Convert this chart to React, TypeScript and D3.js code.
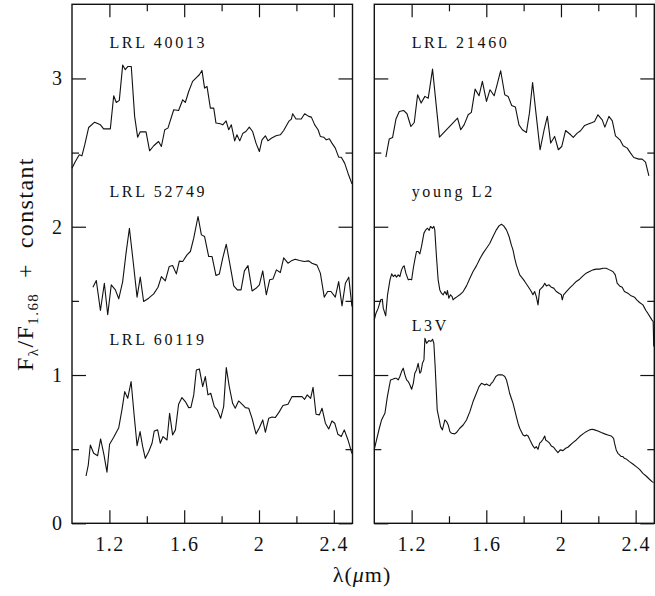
import React, { useEffect, useRef } from "react";
import * as d3 from "d3";

type Pt = [number, number];

// spectra: [wavelength (um), F/F1.68 + offset]
const lrl40013: Pt[] = [
  [1.0, 2.395], [1.018, 2.44], [1.039, 2.485], [1.053, 2.478], [1.068, 2.552], [1.089, 2.669], [1.121, 2.705],
  [1.152, 2.687], [1.169, 2.66], [1.205, 2.66], [1.223, 2.883], [1.237, 2.838], [1.253, 2.852], [1.271, 3.09],
  [1.285, 3.059], [1.299, 3.081], [1.317, 3.081], [1.335, 2.744], [1.351, 2.604], [1.365, 2.64], [1.396, 2.64],
  [1.415, 2.512], [1.437, 2.546], [1.463, 2.575], [1.478, 2.541], [1.496, 2.654], [1.513, 2.665], [1.544, 2.789],
  [1.57, 2.784], [1.592, 2.856], [1.606, 2.838], [1.624, 2.912], [1.645, 2.98], [1.668, 3.009], [1.681, 3.025],
  [1.695, 3.054], [1.709, 2.935], [1.722, 2.946], [1.74, 2.8], [1.758, 2.8], [1.77, 2.699], [1.793, 2.694],
  [1.806, 2.687], [1.824, 2.714], [1.838, 2.654], [1.852, 2.687], [1.87, 2.579], [1.882, 2.62], [1.897, 2.579],
  [1.914, 2.631], [1.93, 2.642], [1.948, 2.672], [1.966, 2.642], [1.984, 2.564], [2.002, 2.507], [2.016, 2.586],
  [2.034, 2.613], [2.048, 2.579], [2.066, 2.597], [2.091, 2.613], [2.114, 2.62], [2.132, 2.649], [2.159, 2.71],
  [2.173, 2.726], [2.18, 2.762], [2.198, 2.726], [2.226, 2.726], [2.244, 2.762], [2.266, 2.744], [2.28, 2.739],
  [2.298, 2.687], [2.316, 2.654], [2.328, 2.609], [2.346, 2.604], [2.36, 2.586], [2.376, 2.593], [2.39, 2.564],
  [2.408, 2.53], [2.426, 2.469], [2.44, 2.469], [2.458, 2.429], [2.476, 2.361], [2.497, 2.289],
];

const lrl52749: Pt[] = [
  [1.112, 1.592], [1.13, 1.637], [1.152, 1.435], [1.173, 1.619], [1.191, 1.406], [1.21, 1.608], [1.232, 1.574],
  [1.25, 1.514], [1.271, 1.63], [1.289, 1.822], [1.307, 1.99], [1.326, 1.777], [1.348, 1.525], [1.365, 1.66],
  [1.383, 1.496], [1.41, 1.518], [1.437, 1.547], [1.46, 1.592], [1.478, 1.664], [1.499, 1.635], [1.52, 1.732],
  [1.538, 1.738], [1.558, 1.682], [1.574, 1.768], [1.592, 1.765], [1.615, 1.81], [1.633, 1.833], [1.651, 1.923],
  [1.674, 2.069], [1.692, 1.945], [1.709, 1.934], [1.731, 1.799], [1.749, 1.799], [1.77, 1.671], [1.788, 1.682],
  [1.806, 1.788], [1.825, 1.882], [1.845, 1.743], [1.865, 1.601], [1.884, 1.574], [1.904, 1.574], [1.922, 1.702],
  [1.941, 1.738], [1.963, 1.567], [1.984, 1.585], [2.002, 1.608], [2.02, 1.702], [2.039, 1.541], [2.057, 1.642],
  [2.075, 1.648], [2.093, 1.709], [2.114, 1.691], [2.132, 1.79], [2.155, 1.754], [2.173, 1.77], [2.194, 1.781],
  [2.217, 1.772], [2.242, 1.765], [2.266, 1.77], [2.283, 1.754], [2.31, 1.741], [2.328, 1.687], [2.349, 1.525],
  [2.367, 1.563], [2.385, 1.563], [2.408, 1.525], [2.426, 1.63], [2.444, 1.466], [2.462, 1.619], [2.48, 1.66],
  [2.497, 1.462],
];

const lrl60119: Pt[] = [
  [1.075, 0.319], [1.087, 0.393], [1.098, 0.528], [1.116, 0.472], [1.137, 0.456], [1.153, 0.569], [1.171, 0.461],
  [1.187, 0.345], [1.201, 0.533], [1.223, 0.58], [1.25, 0.645], [1.267, 0.765], [1.282, 0.888], [1.298, 0.843],
  [1.316, 0.956], [1.333, 0.72], [1.348, 0.524], [1.364, 0.618], [1.378, 0.517], [1.392, 0.438], [1.41, 0.483],
  [1.428, 0.54], [1.44, 0.623], [1.458, 0.63], [1.472, 0.54], [1.487, 0.585], [1.508, 0.562], [1.522, 0.742],
  [1.538, 0.596], [1.553, 0.63], [1.57, 0.803], [1.588, 0.848], [1.606, 0.821], [1.624, 0.78], [1.636, 0.782],
  [1.651, 0.866], [1.665, 1.034], [1.681, 1.041], [1.699, 0.922], [1.713, 0.989], [1.727, 0.866], [1.742, 0.877],
  [1.761, 0.787], [1.777, 0.765], [1.795, 0.708], [1.811, 0.787], [1.825, 1.05], [1.841, 0.922], [1.859, 0.809],
  [1.873, 0.776], [1.891, 0.825], [1.909, 0.803], [1.927, 0.78], [1.945, 0.776], [1.963, 0.708], [1.984, 0.603],
  [2.002, 0.645], [2.02, 0.697], [2.034, 0.614], [2.052, 0.708], [2.07, 0.717], [2.087, 0.713], [2.109, 0.753],
  [2.128, 0.794], [2.155, 0.803], [2.176, 0.854], [2.203, 0.854], [2.23, 0.854], [2.244, 0.836], [2.258, 0.866],
  [2.276, 0.843], [2.289, 0.917], [2.305, 0.735], [2.323, 0.731], [2.337, 0.776], [2.355, 0.675], [2.373, 0.636],
  [2.39, 0.69], [2.405, 0.675], [2.422, 0.6], [2.44, 0.585], [2.456, 0.63], [2.476, 0.562], [2.497, 0.47],
];

const lrl21460: Pt[] = [
  [1.062, 2.469], [1.08, 2.591], [1.098, 2.602], [1.116, 2.726], [1.134, 2.777], [1.157, 2.784], [1.175, 2.762],
  [1.196, 2.676], [1.214, 2.703], [1.232, 2.89], [1.251, 2.834], [1.271, 2.879], [1.289, 2.867], [1.312, 3.063],
  [1.349, 2.604], [1.446, 2.732], [1.463, 2.654], [1.481, 2.687], [1.503, 2.755], [1.52, 2.771], [1.54, 2.928],
  [1.561, 2.883], [1.579, 2.98], [1.601, 2.845], [1.62, 2.924], [1.642, 2.883], [1.66, 2.969], [1.677, 3.052],
  [1.699, 2.89], [1.717, 2.879], [1.736, 2.818], [1.756, 2.807], [1.775, 2.687], [1.793, 2.654], [1.815, 2.636],
  [1.831, 2.766], [1.848, 2.973], [1.868, 2.744], [1.888, 2.519], [1.909, 2.649], [1.927, 2.744], [1.945, 2.564],
  [1.966, 2.609], [1.986, 2.519], [2.004, 2.541], [2.025, 2.649], [2.052, 2.62], [2.066, 2.602], [2.087, 2.631],
  [2.105, 2.647], [2.127, 2.683], [2.15, 2.694], [2.168, 2.703], [2.18, 2.71], [2.198, 2.755], [2.221, 2.721],
  [2.235, 2.672], [2.257, 2.744], [2.275, 2.714], [2.292, 2.613], [2.316, 2.586], [2.333, 2.546], [2.355, 2.53],
  [2.373, 2.496], [2.39, 2.467], [2.417, 2.456], [2.435, 2.456], [2.453, 2.436], [2.471, 2.343],
];

const youngL2: Pt[] = [
  [1.0, 1.372], [1.009, 1.417], [1.021, 1.451], [1.034, 1.507], [1.043, 1.511], [1.048, 1.451], [1.061, 1.399],
  [1.071, 1.541], [1.084, 1.642], [1.093, 1.682], [1.102, 1.664], [1.111, 1.675], [1.119, 1.66], [1.128, 1.675],
  [1.137, 1.664], [1.146, 1.709], [1.155, 1.732], [1.16, 1.736], [1.169, 1.687], [1.182, 1.642], [1.191, 1.646],
  [1.2, 1.642], [1.209, 1.72], [1.217, 1.777], [1.226, 1.833], [1.235, 1.833], [1.244, 1.817], [1.253, 1.867],
  [1.266, 1.957], [1.276, 1.979], [1.285, 1.99], [1.294, 1.975], [1.301, 2.002], [1.312, 1.99], [1.319, 2.002],
  [1.324, 1.979], [1.333, 1.799], [1.342, 1.642], [1.351, 1.574], [1.36, 1.552], [1.369, 1.541], [1.378, 1.563],
  [1.387, 1.541], [1.392, 1.57], [1.399, 1.518], [1.408, 1.541], [1.417, 1.529], [1.422, 1.507], [1.431, 1.518],
  [1.44, 1.525], [1.458, 1.541], [1.476, 1.563], [1.494, 1.601], [1.512, 1.653], [1.529, 1.698], [1.547, 1.736],
  [1.565, 1.783], [1.583, 1.822], [1.601, 1.855], [1.619, 1.889], [1.636, 1.934], [1.654, 1.979], [1.668, 2.006],
  [1.681, 2.017], [1.693, 2.006], [1.708, 1.979], [1.722, 1.934], [1.734, 1.878], [1.743, 1.844], [1.752, 1.788],
  [1.761, 1.743], [1.77, 1.709], [1.779, 1.675], [1.793, 1.653], [1.806, 1.631], [1.824, 1.597], [1.841, 1.563],
  [1.85, 1.541], [1.859, 1.563], [1.868, 1.529], [1.877, 1.473], [1.886, 1.574], [1.895, 1.586], [1.904, 1.597],
  [1.913, 1.619], [1.922, 1.601], [1.936, 1.608], [1.948, 1.592], [1.961, 1.586], [1.975, 1.563], [1.989, 1.552],
  [2.002, 1.541], [2.007, 1.507], [2.014, 1.541], [2.029, 1.563], [2.046, 1.586], [2.064, 1.608], [2.082, 1.631],
  [2.1, 1.646], [2.118, 1.669], [2.135, 1.687], [2.153, 1.698], [2.171, 1.709], [2.189, 1.714], [2.207, 1.714],
  [2.225, 1.72], [2.242, 1.72], [2.26, 1.709], [2.278, 1.698], [2.291, 1.675], [2.301, 1.619], [2.314, 1.601],
  [2.328, 1.592], [2.34, 1.563], [2.358, 1.552], [2.376, 1.534], [2.394, 1.525], [2.406, 1.507], [2.421, 1.489],
  [2.439, 1.473], [2.456, 1.433], [2.465, 1.417], [2.474, 1.399], [2.487, 1.372], [2.494, 1.361], [2.497, 1.192],
];

const l3v: Pt[] = [
  [1.0, 0.499], [1.012, 0.562], [1.027, 0.641], [1.039, 0.697], [1.048, 0.72], [1.057, 0.742], [1.07, 0.854],
  [1.08, 0.922], [1.087, 0.967], [1.098, 0.971], [1.111, 0.978], [1.119, 0.978], [1.128, 0.967], [1.137, 0.99],
  [1.146, 1.023], [1.155, 1.046], [1.164, 1.001], [1.173, 0.967], [1.182, 0.956], [1.191, 0.933], [1.2, 0.904],
  [1.209, 0.944], [1.217, 1.012], [1.226, 1.034], [1.235, 1.079], [1.244, 1.012], [1.25, 1.023], [1.258, 1.079],
  [1.266, 1.102], [1.271, 1.248], [1.28, 1.214], [1.292, 1.232], [1.303, 1.226], [1.312, 1.241], [1.319, 1.214],
  [1.326, 1.057], [1.337, 0.765], [1.348, 0.697], [1.355, 0.652], [1.365, 0.63], [1.378, 0.697], [1.387, 0.686],
  [1.396, 0.663], [1.405, 0.618], [1.414, 0.607], [1.431, 0.603], [1.44, 0.612], [1.458, 0.641], [1.476, 0.663],
  [1.494, 0.697], [1.512, 0.753], [1.529, 0.821], [1.547, 0.877], [1.561, 0.922], [1.574, 0.944], [1.583, 0.94],
  [1.592, 0.933], [1.601, 0.94], [1.61, 0.933], [1.619, 0.927], [1.627, 0.944], [1.636, 0.956], [1.651, 0.99],
  [1.663, 1.001], [1.672, 1.001], [1.686, 1.001], [1.699, 0.99], [1.708, 0.967], [1.717, 0.922], [1.725, 0.877],
  [1.734, 0.843], [1.743, 0.81], [1.752, 0.765], [1.761, 0.72], [1.77, 0.675], [1.779, 0.641], [1.788, 0.618],
  [1.797, 0.596], [1.806, 0.589], [1.815, 0.596], [1.824, 0.589], [1.832, 0.567], [1.841, 0.544], [1.85, 0.522],
  [1.859, 0.506], [1.868, 0.517], [1.877, 0.499], [1.886, 0.54], [1.895, 0.551], [1.904, 0.567], [1.913, 0.589],
  [1.918, 0.562], [1.93, 0.551], [1.939, 0.54], [1.948, 0.522], [1.961, 0.513], [1.971, 0.495], [1.984, 0.477],
  [1.996, 0.495], [2.011, 0.49], [2.025, 0.506], [2.037, 0.513], [2.05, 0.528], [2.064, 0.544], [2.082, 0.562],
  [2.1, 0.585], [2.118, 0.603], [2.135, 0.618], [2.153, 0.63], [2.168, 0.634], [2.18, 0.63], [2.198, 0.623],
  [2.216, 0.612], [2.234, 0.603], [2.251, 0.596], [2.269, 0.589], [2.282, 0.573], [2.287, 0.54], [2.296, 0.495],
  [2.305, 0.472], [2.314, 0.461], [2.323, 0.45], [2.332, 0.45], [2.34, 0.438], [2.349, 0.434], [2.367, 0.416],
  [2.385, 0.4], [2.403, 0.382], [2.421, 0.364], [2.439, 0.337], [2.456, 0.319], [2.474, 0.297], [2.488, 0.281],
  [2.496, 0.274],
];

const xDomain: [number, number] = [1.0, 2.5];
const yDomain: [number, number] = [0, 3.5];
const xMajor = [1.2, 1.6, 2.0, 2.4];
const xMinor = [1.4, 1.8, 2.2];
const yMajor = [0, 1, 2, 3];
const yMinor = [0.5, 1.5, 2.5];

const leftNames = ["LRL 40013", "LRL 52749", "LRL 60119"];
const leftLabelY = [3.207, 2.202, 1.204];
const rightNames = ["LRL 21460", "young L2", "L3V"];
const rightLabelY = [3.207, 2.202, 1.3];

const FONT = "'Liberation Serif', 'Times New Roman', serif";

function clearNode(node: Element | null) {
  if (!node) return;
  while (node.firstChild) node.removeChild(node.firstChild);
}

function drawPanel(svg: any, x0: number, x1: number, series: Pt[][], names: string[], labelY: number[], showY: boolean) {
  const top = 4.3;
  const bottom = 523.3;
  const x = d3.scaleLinear().domain(xDomain).range([x0, x1]);
  const y = d3.scaleLinear().domain(yDomain).range([bottom, top]);
  const g = svg.append("g");

  const tickStyle = (sel: any) => {
    sel.select(".domain").remove();
    sel.selectAll(".tick line").attr("stroke", "#111").attr("stroke-width", 1.2);
  };

  // bottom & top ticks (inward)
  g.append("g").attr("transform", `translate(0,${bottom})`)
    .call(d3.axisBottom(x).tickValues(xMajor).tickSize(-13).tickPadding(14).tickFormat((d: any) => String(d)))
    .call(tickStyle)
    .call((a: any) => a.selectAll("text").attr("font-family", FONT).attr("font-size", 20).attr("fill", "#111").style("letter-spacing", "1.5px"));
  g.append("g").attr("transform", `translate(0,${bottom})`)
    .call(d3.axisBottom(x).tickValues(xMinor).tickSize(-7).tickFormat(() => ""))
    .call(tickStyle);
  g.append("g").attr("transform", `translate(0,${top})`)
    .call(d3.axisTop(x).tickValues(xMajor).tickSize(-13).tickFormat(() => ""))
    .call(tickStyle);
  g.append("g").attr("transform", `translate(0,${top})`)
    .call(d3.axisTop(x).tickValues(xMinor).tickSize(-7).tickFormat(() => ""))
    .call(tickStyle);

  // left & right ticks
  const left = d3.axisLeft(y).tickValues(yMajor).tickSize(-14).tickPadding(10)
    .tickFormat((d: any) => (showY ? String(d) : ""));
  g.append("g").attr("transform", `translate(${x0},0)`)
    .call(left)
    .call(tickStyle)
    .call((a: any) => a.selectAll("text").attr("font-family", FONT).attr("font-size", 20).attr("fill", "#111"));
  g.append("g").attr("transform", `translate(${x0},0)`)
    .call(d3.axisLeft(y).tickValues(yMinor).tickSize(-7).tickFormat(() => ""))
    .call(tickStyle);
  g.append("g").attr("transform", `translate(${x1},0)`)
    .call(d3.axisRight(y).tickValues(yMajor).tickSize(-14).tickFormat(() => ""))
    .call(tickStyle);
  g.append("g").attr("transform", `translate(${x1},0)`)
    .call(d3.axisRight(y).tickValues(yMinor).tickSize(-7).tickFormat(() => ""))
    .call(tickStyle);

  // frame
  g.append("rect")
    .attr("x", x0).attr("y", top)
    .attr("width", x1 - x0).attr("height", bottom - top)
    .attr("fill", "none").attr("stroke", "#111").attr("stroke-width", 1.4);

  const line = d3.line<Pt>().x((d) => x(d[0])).y((d) => y(d[1]));
  g.selectAll("path.spec")
    .data(series)
    .join("path")
    .attr("class", "spec")
    .attr("d", (d: Pt[]) => line(d))
    .attr("fill", "none")
    .attr("stroke", "#111")
    .attr("stroke-width", 1.1)
    .attr("stroke-linejoin", "round");

  g.selectAll("text.name")
    .data(names)
    .join("text")
    .attr("class", "name")
    .attr("x", x(1.2))
    .attr("y", (_d: string, i: number) => y(labelY[i]))
    .attr("font-family", FONT)
    .attr("font-size", 16)
    .attr("fill", "#111")
    .style("letter-spacing", "2.7px")
    .style("white-space", "pre")
    .text((d: string) => d);
}

export default function App() {
  const ref = useRef<SVGSVGElement | null>(null);

  useEffect(() => {
    const node = ref.current;
    clearNode(node);
    const svg = d3.select(node);

    drawPanel(svg, 72, 352.5, [lrl40013, lrl52749, lrl60119], leftNames, leftLabelY, true);
    drawPanel(svg, 374.3, 654.3, [lrl21460, youngL2, l3v], rightNames, rightLabelY, false);

    // y axis title
    const yt = svg.append("text")
      .attr("transform", "translate(33,264) rotate(-90)")
      .attr("text-anchor", "middle")
      .attr("font-family", FONT)
      .attr("font-size", 24)
      .attr("fill", "#111")
      .style("letter-spacing", "1.4px");
    yt.append("tspan").text("F");
    yt.append("tspan").attr("font-size", 15).attr("dy", 5).text("\u03bb");
    yt.append("tspan").attr("dy", -5).text("/F");
    yt.append("tspan").attr("font-size", 15).attr("dy", 5).text("1.68");
    yt.append("tspan").attr("dy", -5).style("white-space", "pre").text("  +  constant");

    // x axis title
    const xt = svg.append("text")
      .attr("x", 362)
      .attr("y", 582)
      .attr("text-anchor", "middle")
      .attr("font-family", FONT)
      .attr("font-size", 22)
      .attr("fill", "#111")
      .style("letter-spacing", "1px");
    xt.append("tspan").text("\u03bb(");
    xt.append("tspan").attr("font-style", "italic").text("\u03bc");
    xt.append("tspan").text("m)");
  }, []);

  return (
    <svg
      ref={ref}
      width={655}
      height={596}
      style={{ position: "absolute", left: 0, top: 0, background: "#fff" }}
    />
  );
}
